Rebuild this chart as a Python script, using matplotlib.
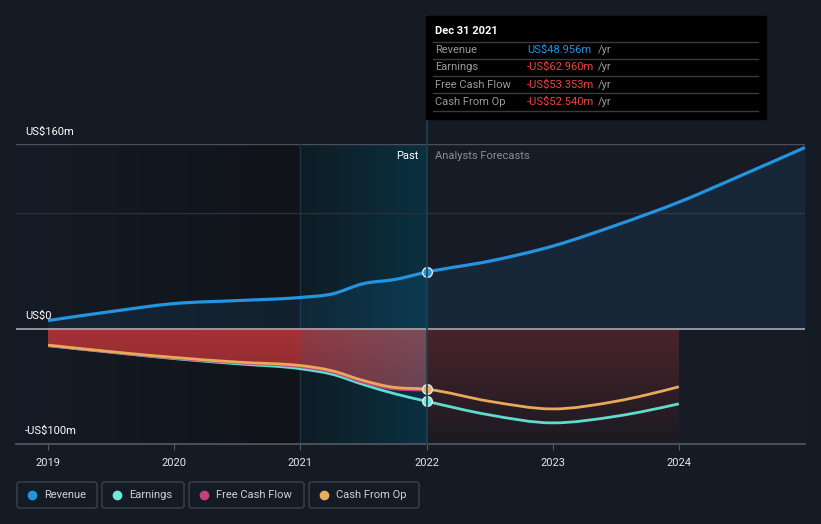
import numpy as np
import matplotlib
matplotlib.use('Agg')
import matplotlib.pyplot as plt
from matplotlib.patches import FancyBboxPatch, Rectangle, PathPatch
from matplotlib.lines import Line2D
from matplotlib.path import Path

plt.rcParams['font.family'] = ['Roboto', 'DejaVu Sans']

# values (US$ m), x in fractional years
rev_x = [2019.0, 2019.5, 2020.0, 2020.5, 2021.0, 2021.25, 2021.5, 2021.75, 2022.0,
         2022.5, 2023.0, 2023.5, 2024.0, 2024.5, 2025.0]
rev_y = [7.0, 14.8, 21.7, 24.3, 27.0, 30.0, 39.0, 42.6, 48.956,
         58.5, 71.5, 89.5, 109.6, 133.0, 157.0]

earn_x = [2019.0, 2019.5, 2020.0, 2020.5, 2021.0, 2021.25, 2021.5, 2021.75, 2022.0,
          2022.5, 2023.0, 2023.5, 2024.0]
earn_y = [-14.8, -20.5, -26.0, -30.5, -34.8, -39.5, -48.5, -56.5, -62.96,
          -74.8, -81.7, -76.0, -65.2]

fcf_x = [2019.0, 2019.5, 2020.0, 2020.5, 2021.0, 2021.25, 2021.5, 2021.75, 2022.0]
fcf_y = [-14.6, -20.3, -25.6, -29.6, -33.0, -37.5, -46.5, -52.3, -53.353]

cfo_x = [2019.0, 2019.5, 2020.0, 2020.5, 2021.0, 2021.25, 2021.5, 2021.75, 2022.0,
         2022.5, 2023.0, 2023.5, 2024.0]
cfo_y = [-14.3, -20.0, -25.0, -29.0, -32.0, -36.5, -45.0, -51.0, -52.54,
         -63.0, -69.6, -63.0, -50.4]

years = [2019, 2020, 2021, 2022, 2023, 2024]
ylabels = [(160, 'US$160m'), (0, 'US$0'), (-100, '-US$100m')]

tip_title = 'Dec 31 2021'
tip_rows = [('Revenue', 'US$48.956m', '#2394df'),
            ('Earnings', '-US$62.960m', '#f0443e'),
            ('Free Cash Flow', '-US$53.353m', '#f0443e'),
            ('Cash From Op', '-US$52.540m', '#f0443e')]

legend = [('Revenue', '#2394df'), ('Earnings', '#6ee8d8'),
          ('Free Cash Flow', '#c4407f'), ('Cash From Op', '#e8ad5e')]

BG = '#151b25'
W, H = 821, 524
x0, x1 = 2018.746, 2025.0
y0, y1 = -100, 160

def fx(px): return px / W
def fy(py): return 1 - py / H

def tangents(x, y):
  x = np.asarray(x, float); y = np.asarray(y, float)
  h = np.diff(x); s = np.diff(y) / h
  m = np.zeros(len(x))
  for k in range(1, len(x) - 1):
    if s[k - 1] * s[k] <= 0:
      m[k] = 0
    else:
      p = (s[k - 1] * h[k] + s[k] * h[k - 1]) / (h[k - 1] + h[k])
      m[k] = np.sign(s[k]) * min(abs(s[k - 1]), abs(s[k]), 0.5 * abs(p)) * 2
  m[0] = (3 * s[0] - m[1]) / 2
  m[-1] = (3 * s[-1] - m[-2]) / 2
  return m

def curve(x, y):
  # monotone cubic bezier through the read points
  m = tangents(x, y)
  verts = [(x[0], y[0])]
  codes = [Path.MOVETO]
  for k in range(len(x) - 1):
    d = (x[k + 1] - x[k]) / 3
    verts += [(x[k] + d, y[k] + m[k] * d), (x[k + 1] - d, y[k + 1] - m[k + 1] * d), (x[k + 1], y[k + 1])]
    codes += [Path.CURVE4] * 3
  return verts, codes

def line_path(x, y):
  v, c = curve(x, y)
  return Path(v, c)

def area_path(x, y, base):
  v, c = curve(x, y)
  v = v + [(x[-1], base), (x[0], base), (x[0], y[0])]
  c = c + [Path.LINETO, Path.LINETO, Path.CLOSEPOLY]
  return Path(v, c)

def hgrad(c0, c1, n=256):
  t = np.linspace(0, 1, n)
  a = np.array(c0)[None, :] * (1 - t[:, None]) + np.array(c1)[None, :] * t[:, None]
  return (a / 255.0)[None, :, :]

def clip_img(ax, img, ext, path, z):
  im = ax.imshow(img, extent=ext, origin='upper', aspect='auto', zorder=z, interpolation='bilinear')
  im.set_clip_path(path, transform=ax.transData)
  return im

fig = plt.figure(figsize=(8.21, 5.24), dpi=100, facecolor=BG)
ax = fig.add_axes([fx(16), fy(444), fx(805) - fx(16), fy(144) - fy(444)])
ax.set_facecolor('#161b26')

# background bands
ax.imshow(hgrad((21, 27, 38), (16, 19, 24)), extent=(x0, 2021, y0, y1), aspect='auto', zorder=0, interpolation='bilinear')
ax.imshow(hgrad((14, 28, 36), (10, 48, 64)), extent=(2021, 2022, y0, y1), aspect='auto', zorder=0, interpolation='bilinear')

# grid
ax.axhline(160, color='#4a4f58', lw=1, zorder=1)
ax.axhline(100, color='#2a2f39', lw=1, zorder=1)

# revenue area
ax.add_patch(PathPatch(area_path(rev_x, rev_y, 0), fc='#2394df', alpha=0.1, lw=0, zorder=2))

# past negative area (red, turning pinkish in highlight)
nx, ny = 300, 60
img = np.zeros((ny, nx, 3))
xs = np.linspace(2019, 2022, nx)
sv = np.linspace(0, 1, ny)[:, None]
for i, xv in enumerate(xs):
  if xv < 2021:
    top, bot = np.array([165, 50, 54]), np.array([135, 40, 45])
  else:
    t = xv - 2021
    top = np.array([145, 60, 68]) * (1 - t) + np.array([125, 75, 90]) * t
    bot = np.array([120, 45, 55]) * (1 - t) + np.array([100, 68, 84]) * t
  img[:, i, :] = (top[None, :] * (1 - sv) + bot[None, :] * sv) / 255.0
clip_img(ax, img, (2019, 2022, -60, 0), area_path(cfo_x[:9], cfo_y[:9], 0), 2)

# forecast negative area
s = np.linspace(0, 1, 100)[:, None]
img2 = (np.array([74, 36, 42])[None, :] * (1 - s) + np.array([27, 26, 34])[None, :] * s) / 255.0
img2 = np.repeat(img2[:, None, :], 2, axis=1)
poly2 = Path([(2022, 0), (2024, 0), (2024, -100), (2022, -100), (2022, 0)])
clip_img(ax, img2, (2022, 2024, -100, 0), poly2, 2)

# zero line and edges
ax.axhline(0, color='#9ea0a4', lw=1.3, zorder=3)
ax.axvline(2021, color='#1d3340', lw=1, zorder=1)

# lines
for xx, yy, c, lw, z in [(earn_x, earn_y, '#5fdccd', 2.0, 4),
                         (fcf_x, fcf_y, '#c4407f', 2.0, 4),
                         (cfo_x, cfo_y, '#e8a95a', 2.0, 5),
                         (rev_x, rev_y, '#2394df', 2.3, 5)]:
  ax.add_patch(PathPatch(line_path(xx, yy), fill=False, ec=c, lw=lw, zorder=z, capstyle='butt'))

for v, c in [(48.956, '#2394df'), (-52.54, '#e8ad5e'), (-62.96, '#6ee8d8')]:
  ax.plot([2022], [v], 'o', ms=7, mfc=c, mec='#e8e8e8', mew=1, zorder=7)

ax.set_xlim(x0, x1)
ax.set_ylim(y0, y1)
for sp in ax.spines.values():
  sp.set_visible(False)
ax.set_yticks([])
ax.set_xticks(years)
ax.set_xticklabels([str(y) for y in years], color='#e6e6e6', fontsize=8)
ax.tick_params(axis='x', length=4, color='#555a63', pad=6)
ax.axhline(-100, color='#555a63', lw=1.2, zorder=6, clip_on=False)

# vertical marker line through tooltip
fig.add_artist(Line2D([fx(427), fx(427)], [fy(444), fy(16)], color='#1b4252', lw=1.2, zorder=3))

for v, t in ylabels:
  fig.text(fx(25), fy(328 - v * 1.15 - 12), t, color='#ffffff', fontsize=8, va='center', ha='left')

fig.text(fx(418), fy(156), 'Past', color='#ffffff', fontsize=8, ha='right', va='center')
fig.text(fx(435), fy(156), 'Analysts Forecasts', color='#8a8d93', fontsize=8, ha='left', va='center')

# tooltip
fig.add_artist(Rectangle((fx(426), fy(119)), fx(766) - fx(426), fy(16) - fy(119), color='#000000', zorder=8))
fig.text(fx(435), fy(31), tip_title, color='#ffffff', fontsize=8, fontweight='bold', va='center', zorder=9)
seps = [41.5, 58.5, 76, 93, 110.5]
for sy in seps:
  fig.add_artist(Line2D([fx(433), fx(758)], [fy(sy), fy(sy)], color='#3a3a3a', lw=1, zorder=9))
for i, (lab, val, c) in enumerate(tip_rows):
  cy = (seps[i] + seps[i + 1]) / 2
  fig.text(fx(435), fy(cy), lab, color='#9a9a9a', fontsize=8, va='center', zorder=9)
  fig.text(fx(527), fy(cy), val, color=c, fontsize=8, va='center', zorder=9)
  fig.text(fx(598), fy(cy), '/yr', color='#9a9a9a', fontsize=8, va='center', zorder=9)

# legend
boxes = [(17, 97), (102, 184), (189, 304), (309, 419)]
for (lab, c), (bx0, bx1) in zip(legend, boxes):
  fig.add_artist(FancyBboxPatch((fx(bx0), fy(508)), fx(bx1) - fx(bx0), fy(482) - fy(508),
                                boxstyle='round,pad=0,rounding_size=0.004', fc=BG, ec='#3c414b', lw=1))
  fig.add_artist(Line2D([fx(bx0 + 15)], [fy(495)], marker='o', ms=6, mfc=c, mec=c, lw=0))
  fig.text(fx(bx0 + 27), fy(495.5), lab, color='#d0d0d0', fontsize=8, va='center')

fig.savefig('out.png', dpi=100, facecolor=BG)
